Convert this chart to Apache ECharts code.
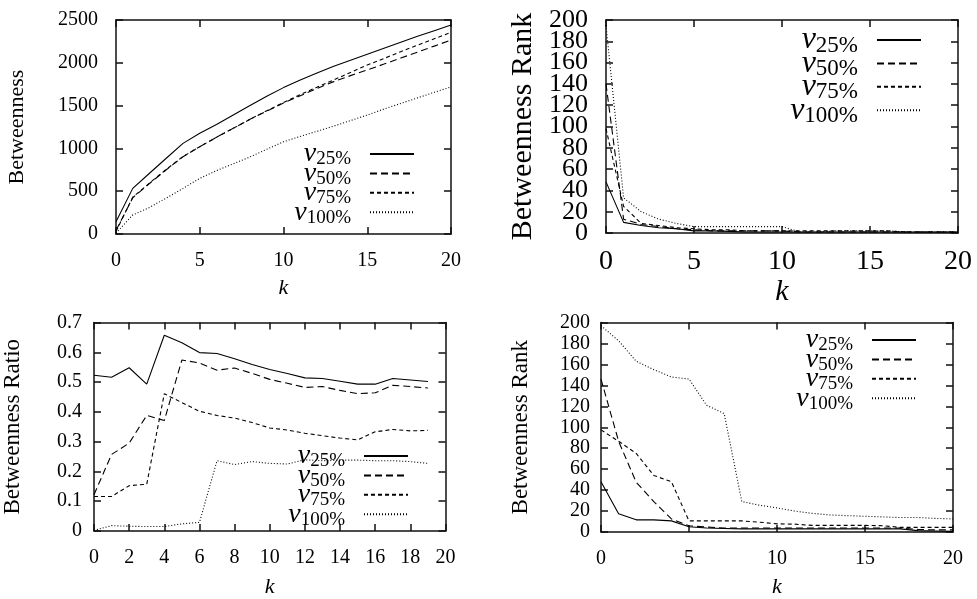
<!DOCTYPE html>
<html>
<head>
<meta charset="utf-8">
<script src="https://cdn.jsdelivr.net/npm/echarts@6/dist/echarts.min.js"></script>
<style>
  html, body { margin: 0; padding: 0; background: #fff; }
  #chart { width: 977px; height: 599px; }
</style>
</head>
<body>
<div id="chart"></div>
<script>
// k values
const kFull = [0, 1, 2, 3, 4, 5, 6, 7, 8, 9, 10, 11, 12, 13, 14, 15, 16, 17, 18, 19, 20];
const kRatio = [0, 1, 2, 3, 4, 5, 6, 7, 8, 9, 10, 11, 12, 13, 14, 15, 16, 17, 18, 19];
const seriesNames = ['v25%', 'v50%', 'v75%', 'v100%'];

// top-left: Betweenness
const betw25 = [144, 533, 710, 885, 1059, 1176, 1280, 1390, 1500, 1610, 1710, 1800, 1880, 1960, 2030, 2100, 2170, 2240, 2310, 2375, 2441];
const betw50 = [40, 424, 590, 750, 903, 1020, 1130, 1235, 1340, 1435, 1530, 1615, 1700, 1780, 1850, 1916, 1985, 2055, 2125, 2195, 2266];
const betw75 = [30, 430, 595, 755, 905, 1020, 1130, 1235, 1340, 1440, 1535, 1628, 1715, 1800, 1888, 1974, 2050, 2130, 2205, 2280, 2356];
const betw100 = [10, 222, 310, 420, 533, 650, 740, 820, 900, 990, 1078, 1140, 1200, 1260, 1325, 1390, 1460, 1525, 1590, 1655, 1718];

// top-right: Betweenness Rank
const rankA25 = [48, 10, 7, 5, 4, 2, 2, 1.5, 1, 1, 1, 1, 1, 1, 1, 1, 1, 1, 1, 1, 1];
const rankA50 = [140, 13, 8, 6, 4, 3, 2, 2, 2, 2, 2, 1, 1, 1, 1, 1, 1, 1, 1, 1, 1];
const rankA75 = [98, 25, 9, 7, 5, 4, 3, 3, 2, 2, 2, 2, 2, 2, 2, 2, 2, 1, 1, 1, 1];
const rankA100 = [195, 33, 20, 13, 9, 6, 6, 6, 6, 6, 6, 1, 1, 2, 2, 2, 2, 1, 1, 1, 1];
const rankTicksOdd = [20, 60, 100, 140, 180];

// bottom-left: Betweenness Ratio
const ratio25 = [0.523, 0.516, 0.548, 0.493, 0.657, 0.632, 0.599, 0.596, 0.578, 0.559, 0.542, 0.529, 0.514, 0.512, 0.503, 0.493, 0.493, 0.512, 0.507, 0.502];
const ratio50 = [0.122, 0.257, 0.295, 0.388, 0.371, 0.574, 0.564, 0.540, 0.547, 0.529, 0.509, 0.496, 0.482, 0.485, 0.472, 0.461, 0.464, 0.489, 0.485, 0.480];
const ratio75 = [0.116, 0.116, 0.152, 0.157, 0.461, 0.431, 0.402, 0.388, 0.379, 0.364, 0.346, 0.339, 0.328, 0.320, 0.312, 0.306, 0.333, 0.341, 0.336, 0.338];
const ratio100 = [0.002, 0.018, 0.016, 0.015, 0.015, 0.024, 0.029, 0.236, 0.223, 0.233, 0.227, 0.225, 0.239, 0.236, 0.238, 0.238, 0.236, 0.236, 0.233, 0.227];

// bottom-right: Betweenness Rank
const rankB25 = [48, 17.5, 11.6, 11.6, 10.6, 5, 3.8, 3.4, 3, 3, 3, 3, 3, 3, 3, 3, 3, 3, 1.3, 1, 0.6];
const rankB50 = [146, 86.6, 47.5, 29, 12.5, 6, 4.7, 3.8, 3.8, 3.8, 3.8, 3.8, 3.8, 3.8, 3.8, 3.8, 3.8, 3.8, 2.5, 2, 2];
const rankB75 = [97.5, 86.6, 75, 54, 48, 10.6, 10.6, 10.6, 10.6, 9.4, 7.8, 7.5, 6.3, 6.3, 6.3, 6.3, 6, 4.4, 4.4, 4.4, 4.4];
const rankB100 = [197, 182.5, 163, 155, 148, 146, 121, 113, 29, 25.6, 23, 20, 17.8, 16.3, 15.6, 15, 14.4, 13.8, 13.8, 13, 12.5];

const FONT = "'Liberation Serif', 'Times New Roman', serif";
const dashes = ['solid', [7, 4], [4, 3], [1, 2]];
const AXIS_COLOR = '#111';

function lineSeries(name, ks, vals, gi, dash) {
    return {
        name: name,
        type: 'line',
        xAxisIndex: gi * 2,
        yAxisIndex: gi * 2,
        symbol: 'none',
        animation: false,
        color: '#000',
        itemStyle: { color: '#000' },
        lineStyle: { color: '#000', width: 1.1, type: dash },
        data: ks.map((k, i) => [k, vals[i]])
    };
}

function xAxes(gi, interval, fs, margin, nameFs, nameGap) {
    const base = {
        type: 'value', gridIndex: gi, min: 0, max: 20, interval: interval,
        axisLine: { onZero: false, lineStyle: { color: AXIS_COLOR, width: 1.5 } },
        axisTick: { inside: true, length: 7, lineStyle: { color: AXIS_COLOR, width: 1.5 } },
        splitLine: { show: false }
    };
    return [
        Object.assign({}, base, {
            position: 'bottom',
            axisLabel: { color: '#000', fontFamily: FONT, fontSize: fs, margin: margin, showMinLabel: true, showMaxLabel: true },
            name: 'k', nameLocation: 'middle', nameGap: nameGap,
            nameTextStyle: { color: '#000', fontFamily: FONT, fontSize: nameFs, fontStyle: 'italic' }
        }),
        Object.assign({}, base, { position: 'top', axisLabel: { show: false } })
    ];
}

function yAxes(gi, max, interval, labelInterval, fs, margin, name, nameFs, nameGap) {
    const base = {
        type: 'value', gridIndex: gi, min: 0, max: max, interval: interval,
        axisLine: { show: true, onZero: false, lineStyle: { color: AXIS_COLOR, width: 1.5 } },
        axisTick: { show: true, inside: true, length: 7, lineStyle: { color: AXIS_COLOR, width: 1.5 } },
        splitLine: { show: false }
    };
    return [
        Object.assign({}, base, {
            position: 'left',
            interval: labelInterval,
            axisLabel: {
                color: '#000', margin: margin,
                showMinLabel: true, showMaxLabel: true, hideOverlap: false,
                formatter: v => '{t|' + String(Math.round(v * 10) / 10) + '}',
                rich: { t: { fontFamily: FONT, fontSize: fs, lineHeight: 18, color: '#000' } }
            },
            name: name, nameLocation: 'middle', nameGap: nameGap,
            nameTextStyle: { color: '#000', fontFamily: FONT, fontSize: nameFs }
        }),
        Object.assign({}, base, { position: 'right', axisLabel: { show: false } })
    ];
}

function legendFor(right, top, vFs, sFs) {
    return {
        data: seriesNames, orient: 'vertical', align: 'right',
        right: right, top: top, padding: 0,
        itemWidth: 44, itemHeight: 12, itemGap: 20.4 - 31,
        selectedMode: false,
        itemStyle: { opacity: 0 },
        formatter: n => '{v|v}{s|' + n.slice(1) + '}{g| }',
        textStyle: {
            color: '#000',
            rich: {
                v: { fontFamily: FONT, fontStyle: 'italic', fontSize: vFs, lineHeight: 20, color: '#000' },
                s: { fontFamily: FONT, fontSize: sFs, lineHeight: 20, padding: [11, 0, 0, 0], color: '#000' },
                g: { width: 14, fontSize: 10, lineHeight: 20 }
            }
        }
    };
}

const chart = echarts.init(document.getElementById('chart'), null, { renderer: 'canvas' });

const grids = [
    { left: 116, top: 20, width: 335, height: 214 },
    { left: 606, top: 20, width: 352, height: 213 },
    { left: 93.5, top: 322.5, width: 352, height: 215 },
    { left: 601, top: 322.5, width: 352, height: 213.5 }
];

const series = [];
[betw25, betw50, betw75, betw100].forEach((d, i) => series.push(lineSeries(seriesNames[i], kFull, d, 0, dashes[i])));
[rankA25, rankA50, rankA75, rankA100].forEach((d, i) => series.push(lineSeries(seriesNames[i], kFull, d, 1, dashes[i])));
[ratio25, ratio50, ratio75, ratio100].forEach((d, i) => series.push(lineSeries(seriesNames[i], kRatio, d, 2, dashes[i])));
[rankB25, rankB50, rankB75, rankB100].forEach((d, i) => series.push(lineSeries(seriesNames[i], kFull, d, 3, dashes[i])));

// top-right panel: labels are crowded, so the in-between labels sit on a second left axis
const rankInBetweenAxis = {
    type: 'value', gridIndex: 1, position: 'left', min: 0, max: 200, interval: 20,
    axisLine: { show: false },
    axisTick: { show: true, inside: true, length: 7, lineStyle: { color: AXIS_COLOR, width: 1.5 } },
    splitLine: { show: false },
    axisLabel: {
        margin: 18, showMinLabel: false, showMaxLabel: false, hideOverlap: false,
        formatter: v => rankTicksOdd.indexOf(Math.round(v)) >= 0 ? '{t|' + Math.round(v) + '}' : '',
        rich: { t: { fontFamily: FONT, fontSize: 26, lineHeight: 18, color: '#000' } }
    }
};

chart.setOption({
    backgroundColor: '#fff',
    animation: false,
    grid: grids,
    xAxis: [].concat(
        xAxes(0, 5, 20, 17, 22, 43),
        xAxes(1, 5, 28, 15, 30, 44),
        xAxes(2, 2, 20, 17, 22, 45),
        xAxes(3, 5, 20, 17, 22, 44)
    ),
    yAxis: [].concat(
        yAxes(0, 2500, 500, 500, 20, 18, 'Betweenness', 22, 88),
        yAxes(1, 200, 20, 40, 26, 18, 'Betweenness Rank', 30, 68),
        yAxes(2, 0.7, 0.1, 0.1, 20, 12, 'Betweenness Ratio', 23, 70),
        yAxes(3, 200, 20, 20, 20, 11, 'Betweenness Rank', 23, 69),
        [rankInBetweenAxis]
    ),
    legend: [
        legendFor(562, 139, 28, 19),
        legendFor(55, 23, 32, 23),
        legendFor(568, 441, 28, 19),
        legendFor(60, 325, 28, 19)
    ],
    series: series
});
</script>
</body>
</html>
